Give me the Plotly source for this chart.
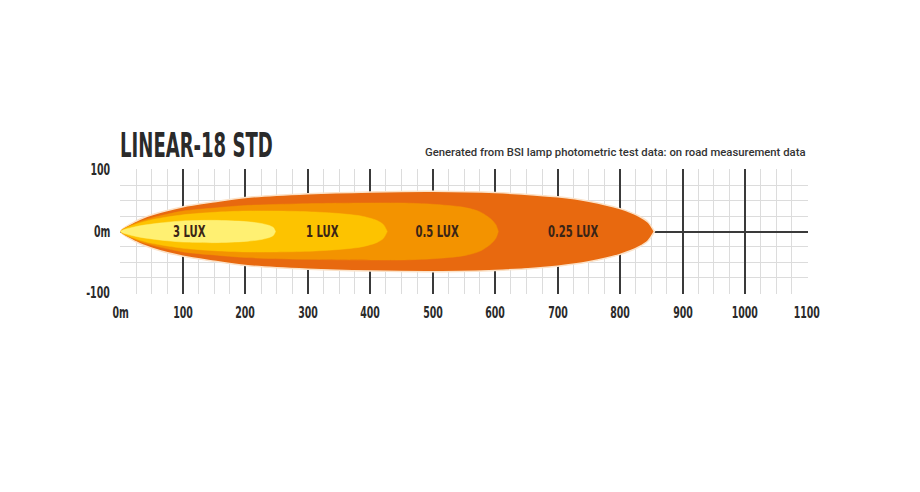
import plotly.graph_objects as go

# ---- data ----
# half-widths (m) of each illuminance contour vs distance (m)
lux025_x = [0, 25, 50, 100, 150, 200, 300, 400, 500, 600, 700, 750, 800, 830, 845, 855]
lux025_w = [0, 17, 27, 40, 48, 55, 61, 64, 65, 63, 56, 49, 37, 25, 15, 0]

lux05_x = [0, 25, 50, 100, 150, 200, 300, 400, 450, 500, 550, 575, 592, 601, 605]
lux05_w = [0, 14, 22, 33, 38, 42, 45, 46, 46, 44, 39, 32, 21, 11, 0]

lux1_x = [0, 25, 50, 100, 150, 200, 250, 300, 350, 385, 410, 421, 427]
lux1_w = [0, 12, 19, 27, 31, 33, 33, 32, 29, 25, 18, 11, 0]

lux3_x = [0, 25, 50, 75, 100, 150, 200, 225, 240, 245, 248]
lux3_w = [0, 8, 12, 15, 17, 18, 16, 13, 9, 6, 0]

lux_labels = ["3 LUX", "1 LUX", "0.5 LUX", "0.25 LUX"]
lux_label_x = [109, 323, 507, 724]

x_ticks = [0, 100, 200, 300, 400, 500, 600, 700, 800, 900, 1000, 1100]
x_ticktext = ["0m", "100", "200", "300", "400", "500", "600", "700", "800", "900", "1000", "1100"]
y_ticks = [-100, 0, 100]
y_ticktext = ["-100", "0m", "100"]

title_text = "LINEAR-18 STD"
subtitle_text = "Generated from BSI lamp photometric test data: on road measurement data"

COND = "DejaVu Sans Condensed, DejaVu Sans, sans-serif"
TXT = "#2a2a2a"

fig = go.Figure()


def contour(xs, ws, fill, line_color, line_width):
    px = list(xs) + list(reversed(xs))
    py = list(ws) + [-w for w in reversed(ws)]
    fig.add_trace(go.Scatter(
        x=px, y=py, mode="lines", fill="toself", fillcolor=fill,
        line=dict(color=line_color, width=line_width, shape="spline", smoothing=0.8),
        hoverinfo="skip", showlegend=False))


contour(lux025_x, lux025_w, "#E8690F", "#FBE2C8", 1.5)
contour(lux05_x, lux05_w, "#F39300", "#F39300", 0.5)
contour(lux1_x, lux1_w, "#FDC300", "#FDC300", 0.5)
contour(lux3_x, lux3_w, "#FFF072", "#FFF072", 0.5)

# annotations 0..3: beam labels
for lab, lx in zip(lux_labels, lux_label_x):
    fig.add_annotation(x=lx, y=0, text=lab, showarrow=False,
                       font=dict(family=COND, size=16, color="#3a2416", weight="bold"))

# annotation 4: title ; annotation 5: subtitle
fig.add_annotation(xref="paper", yref="paper", x=0.1105, y=1.0, yshift=2,
                   xanchor="center", yanchor="bottom", text=title_text, showarrow=False,
                   font=dict(family=COND, size=34, color=TXT, weight="bold"))
fig.add_annotation(xref="paper", yref="paper", x=1, y=1.0, yshift=8,
                   xanchor="right", yanchor="bottom", text=subtitle_text, showarrow=False,
                   font=dict(family="Roboto, Inter, sans-serif", size=11.3, color="#333333", weight=500))

# axis tick labels as text annotations (so they can be drawn in a condensed style)
for v, t in zip(x_ticks, x_ticktext):
    fig.add_annotation(x=v, xref="x", y=0, yref="paper", yanchor="top", yshift=-8,
                       text=t, showarrow=False,
                       font=dict(family=COND, size=15, color=TXT, weight="bold"))
for v, t in zip(y_ticks, y_ticktext):
    fig.add_annotation(x=0, xref="paper", xanchor="right", xshift=-8, y=v, yref="y",
                       text=t, showarrow=False,
                       font=dict(family=COND, size=15, color=TXT, weight="bold"))

n_x = len(x_ticks)

fig.update_xaxes(
    range=[-1, 1101], tickvals=x_ticks, showticklabels=False,
    showgrid=True, gridcolor="#3a3a3a", gridwidth=2,
    minor=dict(dtick=25, tick0=0, showgrid=True, gridcolor="#dcdcdc", gridwidth=1),
    zeroline=False, showline=False, ticks="",
    fixedrange=True,
)
fig.update_yaxes(
    range=[-101, 101], tickvals=y_ticks, showticklabels=False,
    showgrid=True, gridcolor="#dcdcdc", gridwidth=1,
    minor=dict(dtick=25, tick0=0, showgrid=True, gridcolor="#dcdcdc", gridwidth=1),
    zeroline=True, zerolinecolor="#3a3a3a", zerolinewidth=2,
    showline=False, ticks="",
    fixedrange=True,
)

fig.update_layout(
    width=920, height=492,
    margin=dict(l=112, r=120, t=161, b=206),
    paper_bgcolor="white", plot_bgcolor="white",
    showlegend=False,
)

Y_START = 6 + n_x  # first y-tick annotation index

post_js = """
(function(){
  var gd = document.getElementById('{plot_id}');
  function sq(el, s, origin){
    el.style.transformBox = 'fill-box';
    el.style.transformOrigin = origin;
    el.style.transform = 'scaleX(' + s + ')';
  }
  function run(){
    gd.querySelectorAll('g.annotation').forEach(function(g){
      var i = parseInt(g.getAttribute('data-index'), 10);
      var t = g.querySelector('text');
      if (!t || i === 5) return;
      if (i === 4) { sq(t, 0.59, 'center'); }
      else if (i >= YSTART) { sq(t, 0.7, 'right'); }
      else { sq(t, 0.7, 'center'); }
    });
  }
  run();
  gd.on && gd.on('plotly_afterplot', run);
})();
""".replace("YSTART", str(Y_START))

fig.write_html("out.html", post_script=post_js)
